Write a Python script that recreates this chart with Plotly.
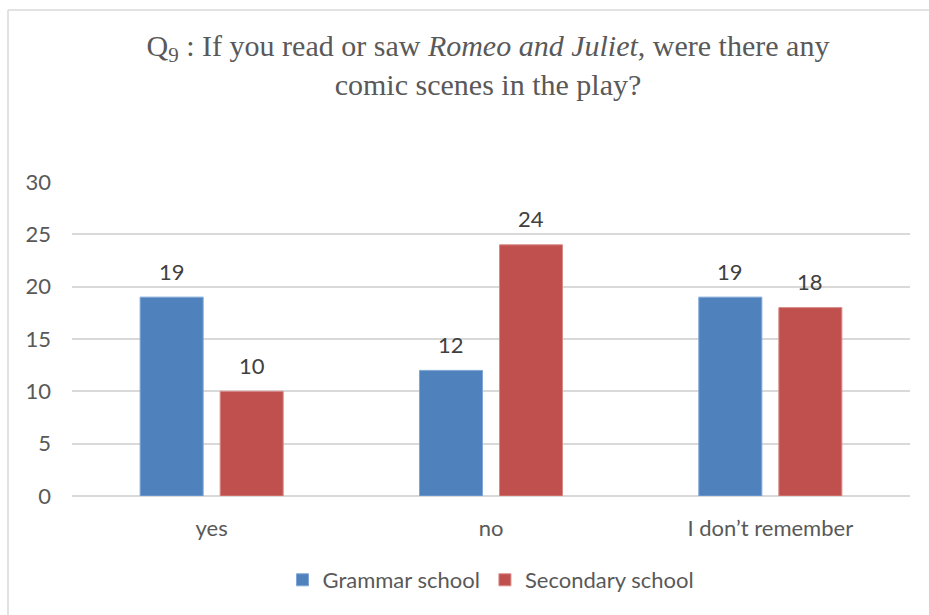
import plotly.graph_objects as go

# Survey answers per school type
categories = ["yes", "no", "I don\u2019t remember"]
grammar_school = [19, 12, 19]
secondary_school = [10, 24, 18]
y_ticks = [0, 5, 10, 15, 20, 25, 30]

BLUE = "#4F81BD"
RED = "#C0504D"
SANS = "Lato, Carlito, Calibri, sans-serif"
SERIF = "Liberation Serif, Times New Roman, serif"
FS = 22

series = [
    ("Grammar school", grammar_school, BLUE, "#7FA6D6", -40),
    ("Secondary school", secondary_school, RED, "#D98A88", 40),
]

fig = go.Figure()
annotations = []
for name, vals, col, edge, dx in series:
    fig.add_trace(go.Bar(
        name=name, x=categories, y=vals,
        marker=dict(color=col, line=dict(color=edge, width=1)),
    ))
    # value labels above each bar
    for cat, v in zip(categories, vals):
        annotations.append(dict(
            x=cat, y=v, xref="x", yref="y", text=str(v), showarrow=False,
            xshift=dx, yshift=26, yanchor="middle",
            font=dict(family=SANS, size=FS, color="#404040"),
        ))

W, H = 929, 615
L, R, T, B = 72, 19, 182, 119
pw, ph = W - L - R, H - T - B

def px_x(x):
    return (x - L) / pw

def px_y(y):
    return (H - B - y) / ph

fig.update_layout(
    width=W, height=H, autosize=False,
    margin=dict(l=L, r=R, t=T, b=B),
    paper_bgcolor="white", plot_bgcolor="white",
    barmode="group", bargap=0.427, bargroupgap=0.2125,
    title=dict(
        text="Q<sub>9</sub> : If you read or saw <i>Romeo and Juliet</i>, were there any<br>comic scenes in the play?",
        x=488 / W, xanchor="center", y=1 - 56 / H, yanchor="top",
        font=dict(family=SERIF, size=30, color="#595959"),
    ),
    xaxis=dict(
        showgrid=False, showline=False, ticks="",
        tickfont=dict(family=SANS, size=FS, color="#595959"),
        ticklabelstandoff=17,
    ),
    yaxis=dict(
        range=[0, 30], tickvals=y_ticks, showgrid=True,
        gridcolor="#D9D9D9", gridwidth=1.5, zeroline=True,
        zerolinecolor="#D9D9D9", zerolinewidth=1.5,
        tickfont=dict(family=SANS, size=FS, color="#595959"),
        ticks="", ticklabelstandoff=20,
    ),
    legend=dict(
        orientation="h", x=0.5, xanchor="center",
        y=px_y(580), yanchor="middle",
        font=dict(family=SANS, size=FS, color="#595959"),
        itemwidth=30, traceorder="normal",
    ),
    showlegend=True,
    annotations=annotations,
    shapes=[
        dict(type="line", xref="paper", yref="paper",
             x0=px_x(8), x1=px_x(8), y0=px_y(10), y1=px_y(H + 5),
             line=dict(color="#D9D9D9", width=1.5)),
        dict(type="line", xref="paper", yref="paper",
             x0=px_x(8), x1=px_x(W + 5), y0=px_y(10), y1=px_y(10),
             line=dict(color="#D9D9D9", width=1.5)),
    ],
)

fig.write_html("out.html")
